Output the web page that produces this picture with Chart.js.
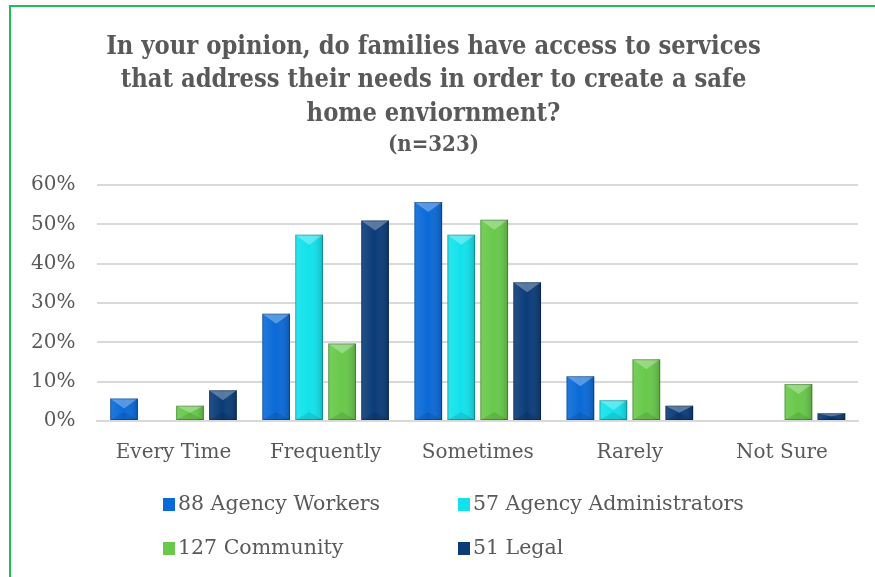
<!DOCTYPE html>
<html>
<head>
<meta charset="utf-8">
<script src="https://cdn.jsdelivr.net/npm/chart.js@4.4.0/dist/chart.umd.min.js"></script>
<style>
  html, body { margin: 0; padding: 0; background: #fff; }
  #wrap { position: relative; width: 875px; height: 577px; overflow: hidden; }
  #frame { position: absolute; left: 9px; top: 5px; width: 900px; height: 600px;
           border-left: 2px solid #1fbc5a; border-top: 2px solid #1fbc5a; }
  #legend { position: absolute; left: 0; top: 0; width: 875px; height: 577px;
            font-family: "DejaVu Serif", serif; font-size: 20.5px; color: #595959; }
  .item { position: absolute; white-space: nowrap; line-height: 24px; }
  .box { display: inline-block; width: 12px; height: 13px; margin-right: 3px; vertical-align: -1px; }
</style>
</head>
<body>
<div id="wrap">
  <div id="frame"></div>
  <canvas id="bar-chartcanvas" width="875" height="577"></canvas>
  <div id="legend"></div>
</div>
<script>
// categories
var categories = ["Every Time", "Frequently", "Sometimes", "Rarely", "Not Sure"];

// series labels
var seriesNames = ["88 Agency Workers", "57 Agency Administrators", "127 Community", "51 Legal"];

// series values (%)
var workers = [5.7, 27.3, 55.7, 11.4, 0];
var administrators = [0, 47.4, 47.4, 5.3, 0];
var community = [3.9, 19.7, 51.2, 15.7, 9.4];
var legal = [7.8, 51.0, 35.3, 3.9, 2.0];

// y ticks
var yTicks = [0, 10, 20, 30, 40, 50, 60];

var colors = ["#0a6ad8", "#12e2ec", "#68c94a", "#0b3c78"];

var ctx = document.getElementById("bar-chartcanvas");

// shading + bevel on top of every bar
var bevelPlugin = {
  id: "bevel",
  afterDatasetsDraw: function(chart) {
    var c = chart.ctx;
    chart.data.datasets.forEach(function(ds, i) {
      var meta = chart.getDatasetMeta(i);
      meta.data.forEach(function(bar) {
        var p = bar.getProps(["x", "y", "base", "width"], true);
        var h = p.base - p.y;
        if (h < 1) return;
        var l = p.x - p.width / 2, r = p.x + p.width / 2;
        c.save();
        var g = c.createLinearGradient(l, 0, r, 0);
        g.addColorStop(0, "rgba(255,255,255,0.10)");
        g.addColorStop(0.5, "rgba(255,255,255,0)");
        g.addColorStop(1, "rgba(0,0,0,0.18)");
        c.fillStyle = g;
        c.fillRect(l, p.y, p.width, h);
        var d = Math.min(10, h / 2);
        // top face
        c.fillStyle = "rgba(255,255,255,0.30)";
        c.beginPath();
        c.moveTo(l, p.y);
        c.lineTo(r, p.y);
        c.lineTo(p.x, p.y + d);
        c.closePath();
        c.fill();
        // bottom face
        c.fillStyle = "rgba(0,0,0,0.10)";
        c.beginPath();
        c.moveTo(l, p.base);
        c.lineTo(r, p.base);
        c.lineTo(p.x, p.base - Math.min(8, h / 2));
        c.closePath();
        c.fill();
        c.strokeStyle = "rgba(0,0,0,0.25)";
        c.lineWidth = 1;
        c.strokeRect(l + 0.5, p.y + 0.5, p.width - 1, h - 1);
        c.restore();
      });
    });
  }
};

var data = {
  labels: categories,
  datasets: [
    { label: seriesNames[0], data: workers, backgroundColor: colors[0] },
    { label: seriesNames[1], data: administrators, backgroundColor: colors[1] },
    { label: seriesNames[2], data: community, backgroundColor: colors[2] },
    { label: seriesNames[3], data: legal, backgroundColor: colors[3] }
  ]
};

var options = {
  responsive: false,
  animation: false,
  layout: { padding: { left: 9, right: 17, top: 8, bottom: 100 } },
  datasets: { bar: { categoryPercentage: 0.867, barPercentage: 0.84 } },
  plugins: {
    legend: { display: false },
    tooltip: { enabled: false },
    title: {
      display: true,
      text: ["In your opinion, do families have access to services",
             "that address their needs in order to create a safe",
             "home enviornment?"],
      font: { family: "DejaVu Serif Condensed", size: 25.3, weight: "bold", lineHeight: 1.34 },
      color: "#595959",
      padding: { top: 22, bottom: 0 }
    },
    subtitle: {
      display: true,
      text: "(n=323)",
      font: { family: "DejaVu Serif Condensed", size: 22, weight: "bold", lineHeight: 1.2 },
      color: "#595959",
      padding: { top: 0, bottom: 27 }
    }
  },
  scales: {
    x: {
      grid: { display: false },
      border: { color: "#d9d9d9", width: 2 },
      ticks: { color: "#595959", font: { family: "DejaVu Serif", size: 20 }, padding: 12 }
    },
    y: {
      min: 0,
      max: 60,
      afterBuildTicks: function(axis) {
        axis.ticks = yTicks.map(function(v) { return { value: v }; });
      },
      grid: { color: "#d9d9d9", lineWidth: 2, drawTicks: false },
      border: { display: false },
      ticks: {
        color: "#595959",
        font: { family: "DejaVu Serif", size: 20 },
        padding: 22,
        callback: function(v) { return v + "%"; }
      }
    }
  }
};

var chart = new Chart(ctx, {
  type: "bar",
  data: data,
  options: options,
  plugins: [bevelPlugin]
});

// legend laid out in two columns like the original
var legendPos = [[163, 491], [458, 491], [163, 535], [458, 535]];
var legendEl = document.getElementById("legend");
seriesNames.forEach(function(name, i) {
  var d = document.createElement("div");
  d.className = "item";
  d.style.left = legendPos[i][0] + "px";
  d.style.top = legendPos[i][1] + "px";
  d.innerHTML = '<span class="box" style="background:' + colors[i] + '"></span>' + name;
  legendEl.appendChild(d);
});
</script>
</body>
</html>
